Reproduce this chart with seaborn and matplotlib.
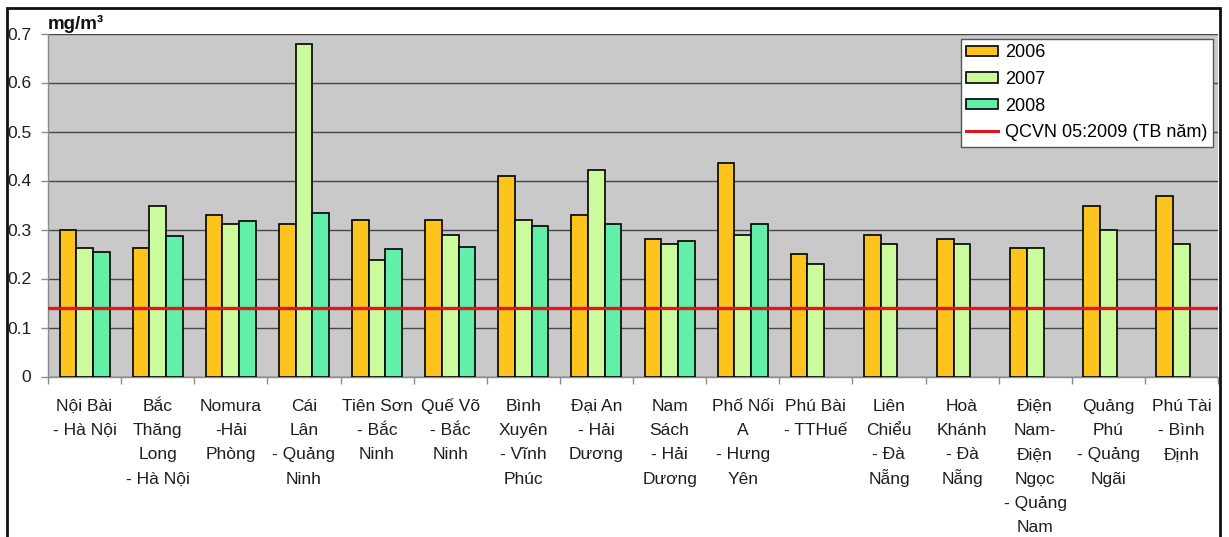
import matplotlib
matplotlib.use("Agg")
import matplotlib.pyplot as plt
from matplotlib.patches import Patch, Rectangle
from matplotlib.lines import Line2D
from matplotlib.transforms import ScaledTranslation
import numpy as np
import pandas as pd
import seaborn as sns

# Monitoring sites (axis labels, wrapped as printed under each group)
sites = [
    "Nội Bài\n- Hà Nội",
    "Bắc\nThăng\nLong\n- Hà Nội",
    "Nomura\n-Hải\nPhòng",
    "Cái\nLân\n- Quảng\nNinh",
    "Tiên Sơn\n- Bắc\nNinh",
    "Quế Võ\n- Bắc\nNinh",
    "Bình\nXuyên\n- Vĩnh\nPhúc",
    "Đại An\n- Hải\nDương",
    "Nam\nSách\n- Hải\nDương",
    "Phố Nối\nA\n- Hưng\nYên",
    "Phú Bài\n- TTHuế",
    "Liên\nChiểu\n- Đà\nNẵng",
    "Hoà\nKhánh\n- Đà\nNẵng",
    "Điện\nNam-\nĐiện\nNgọc\n- Quảng\nNam",
    "Quảng\nPhú\n- Quảng\nNgãi",
    "Phú Tài\n- Bình\nĐịnh",
]

years = ["2006", "2007", "2008"]

# Annual mean concentrations, mg/m3 (no 2008 measurement for the last six sites)
v2006 = [0.30, 0.262, 0.33, 0.311, 0.32, 0.32, 0.41, 0.33, 0.28, 0.436,
         0.249, 0.289, 0.28, 0.262, 0.348, 0.368]
v2007 = [0.262, 0.348, 0.311, 0.679, 0.238, 0.288, 0.319, 0.421, 0.27, 0.288,
         0.23, 0.27, 0.27, 0.262, 0.30, 0.27]
v2008 = [0.255, 0.286, 0.317, 0.333, 0.26, 0.265, 0.307, 0.311, 0.277, 0.311,
         np.nan, np.nan, np.nan, np.nan, np.nan, np.nan]

# National standard QCVN 05:2009, annual average
standard = 0.14
standard_label = "QCVN 05:2009 (TB năm)"

colors = ["#FCC41C", "#CCFB9E", "#62F0A8"]

df = pd.DataFrame({"site": sites, "2006": v2006, "2007": v2007, "2008": v2008})
long = df.melt(id_vars="site", value_vars=years, var_name="year", value_name="value")

plt.rcParams["font.family"] = ["Liberation Sans", "DejaVu Sans"]
W, H = 1229, 537
fig = plt.figure(figsize=(W / 100, H / 100), dpi=100, facecolor="white")
ax = fig.add_axes([48 / W, 1 - 376.5 / H, 1170 / W, 343 / H])
ax.set_facecolor("#C9C9C9")

sns.barplot(data=long, x="site", y="value", hue="year", order=sites,
            hue_order=years, palette=colors, saturation=1, width=0.684,
            edgecolor="black", linewidth=1.2, errorbar=None, legend=False,
            zorder=3, ax=ax)

ax.axhline(standard, color="#E2141C", lw=2.4, zorder=5)

ax.set_xlim(-0.5, len(sites) - 0.5)
ax.set_ylim(0, 0.7)
ax.set_yticks(np.arange(0, 0.71, 0.1))
ax.set_yticklabels(["0", "0.1", "0.2", "0.3", "0.4", "0.5", "0.6", "0.7"])
ax.yaxis.grid(True, color="#474747", lw=1.0, zorder=0)
ax.set_axisbelow(True)
ax.set_xlabel("")
ax.set_ylabel("")

# Category labels: one text per line on an even baseline grid
ax.set_xticks(range(len(sites)))
ax.set_xticklabels([])
ax.set_xticks(np.arange(-0.5, len(sites), 1.0), minor=True)
ax.tick_params(axis="x", which="major", length=0)
ax.tick_params(axis="x", which="minor", length=5, color="#8a8a8a", width=1)
ax.tick_params(axis="y", length=5, color="#8a8a8a", width=1, pad=7,
               labelsize=12.5, labelcolor="#1e1e1e")

first_baseline, line_step = 34.5, 24.2  # pixels below the axis
for i, label in enumerate(sites):
    for j, line in enumerate(label.split("\n")):
        dy = (first_baseline + j * line_step) / 100
        tr = ax.get_xaxis_transform() + ScaledTranslation(0, -dy, fig.dpi_scale_trans)
        ax.text(i, 0, line, transform=tr, ha="center", va="baseline",
                fontsize=12.5, color="#1e1e1e", clip_on=False)

for side in ["top", "right"]:
    ax.spines[side].set_visible(False)
for side in ["left", "bottom"]:
    ax.spines[side].set_color("#8a8a8a")
    ax.spines[side].set_linewidth(1)

handles = [Patch(facecolor=c, edgecolor="black", linewidth=1.2) for c in colors]
handles.append(Line2D([], [], color="#E2141C", lw=2.2))
leg = ax.legend(handles, years + [standard_label], loc="upper right",
                bbox_to_anchor=((1213 - 48) / 1170, (376.5 - 39) / 343),
                borderaxespad=0, fontsize=13, frameon=True, fancybox=False,
                framealpha=1, edgecolor="#555555", handlelength=1.75,
                handleheight=0.5, handletextpad=0.4, labelspacing=0.53,
                borderpad=0.3)
leg.get_frame().set_linewidth(1)
leg.set_zorder(10)

fig.text(48 / W, 1 - 29 / H, "mg/m³", fontsize=13.5, fontweight="bold",
         ha="left", va="baseline", color="#111111")

# Outer chart frame
fig.patches.append(Rectangle((7 / W, -0.05), 1213 / W, 1.05 - 8 / H,
                             transform=fig.transFigure, fill=False,
                             edgecolor="#111111", lw=2, zorder=20))

fig.savefig("out.png", dpi=100, facecolor="white")
